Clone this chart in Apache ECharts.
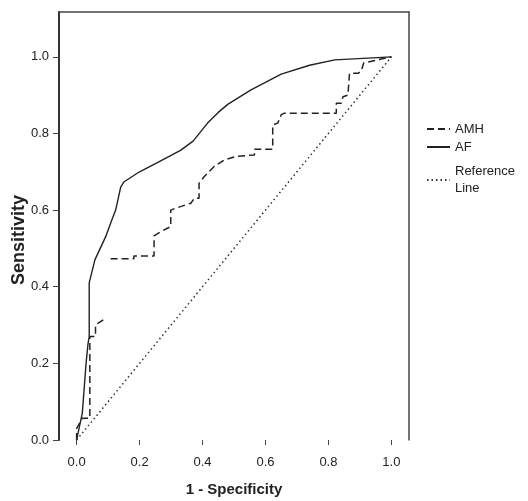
<!DOCTYPE html>
<html>
<head>
<meta charset="utf-8">
<script src="https://cdn.jsdelivr.net/npm/echarts@6/dist/echarts.min.js"></script>
<style>
  html, body { margin: 0; padding: 0; background: #fff; }
  #main { width: 528px; height: 501px; }
</style>
</head>
<body>
<div id="main"></div>
<script>
// ROC curve points
var afX = [0, 0.005, 0.018, 0.03, 0.036, 0.04, 0.04, 0.058, 0.075, 0.092, 0.11, 0.124, 0.14, 0.151, 0.2, 0.252, 0.33, 0.37, 0.416, 0.45, 0.48, 0.554, 0.65, 0.74, 0.82, 1];
var afY = [0, 0.02, 0.07, 0.2, 0.25, 0.27, 0.41, 0.47, 0.5, 0.53, 0.57, 0.6, 0.66, 0.674, 0.7, 0.722, 0.756, 0.78, 0.827, 0.855, 0.876, 0.914, 0.955, 0.978, 0.992, 1];

// '-' marks the break visible in the AMH curve
var amhX = [0, 0, 0.018, 0.042, 0.042, 0.06, 0.06, 0.087, '-', 0.108, 0.182, 0.182, 0.246, 0.246, 0.268, 0.299, 0.299, 0.315, 0.363, 0.374, 0.389, 0.389, 0.405, 0.437, 0.469, 0.506, 0.565, 0.565, 0.623, 0.623, 0.639, 0.65, 0.66, 0.825, 0.825, 0.841, 0.846, 0.862, 0.867, 0.894, 0.904, 0.912, 1];
var amhY = [0, 0.03, 0.057, 0.057, 0.27, 0.27, 0.3, 0.315, '-', 0.473, 0.473, 0.48, 0.48, 0.533, 0.544, 0.557, 0.6, 0.605, 0.618, 0.631, 0.631, 0.67, 0.687, 0.714, 0.731, 0.74, 0.744, 0.759, 0.759, 0.822, 0.827, 0.849, 0.853, 0.853, 0.879, 0.879, 0.896, 0.9, 0.957, 0.957, 0.962, 0.984, 1];

var refX = [0, 1];
var refY = [0, 1];

var tickValues = [0, 0.2, 0.4, 0.6, 0.8, 1.0];

function zip(xs, ys) {
  return xs.map(function (x, i) { return [x, ys[i]]; });
}

var chartDom = document.getElementById("main");
var myChart = echarts.init(chartDom);
var option;

var font = "'Liberation Sans', Arial, sans-serif";
var ink = "#222";
var frame = { show: true, onZero: false, lineStyle: { color: "#444", width: 1.5 } };
// only the line sample in the legend, no marker
var noMarker = { color: "transparent", borderColor: "transparent", borderWidth: 0, opacity: 0 };

option = {
  animation: false,
  backgroundColor: "#fff",
  grid: { left: 59, right: 119, top: 12, bottom: 61, containLabel: false, outerBoundsMode: "none" },
  legend: [
    {
      data: ["AMH", "AF"],
      orient: "vertical",
      left: 421,
      top: 117,
      itemWidth: 23,
      itemHeight: 12,
      itemGap: 4,
      itemStyle: noMarker,
      textStyle: { fontFamily: font, fontSize: 13, color: ink, lineHeight: 14 },
    },
    {
      data: ["Reference Line"],
      orient: "vertical",
      left: 421,
      top: 158,
      itemWidth: 23,
      itemHeight: 12,
      itemStyle: noMarker,
      formatter: function (name) { return "Reference\nLine"; },
      textStyle: { fontFamily: font, fontSize: 13, color: ink, lineHeight: 17 },
    },
  ],
  xAxis: [
    {
      type: "value",
      min: -0.056,
      max: 1.056,
      name: "1 - Specificity",
      nameLocation: "middle",
      nameGap: 42,
      nameMoveOverlap: false,
      nameTextStyle: { fontFamily: font, fontSize: 15, fontWeight: "bold", color: ink },
      axisLine: { show: false, onZero: false },
      axisTick: { show: true, length: 5, customValues: tickValues, lineStyle: { color: "#444" } },
      axisLabel: {
        customValues: tickValues,
        margin: 16,
        fontFamily: font,
        fontSize: 13,
        color: ink,
        formatter: function (v) { return v.toFixed(1); },
      },
      splitLine: { show: false },
    },
    {
      type: "value",
      position: "top",
      min: -0.056,
      max: 1.056,
      axisLine: frame,
      axisTick: { show: false },
      axisLabel: { show: false },
      splitLine: { show: false },
    },
  ],
  yAxis: [
    {
      type: "value",
      min: 0,
      max: 1.117,
      name: "Sensitivity",
      nameLocation: "middle",
      nameGap: 31,
      nameMoveOverlap: false,
      nameTextStyle: { fontFamily: font, fontSize: 18, fontWeight: "bold", color: ink, padding: [0, 28, 0, 0] },
      axisLine: { show: true, onZero: false, lineStyle: { color: "#333", width: 2 } },
      axisTick: { show: true, length: 6, customValues: tickValues, lineStyle: { color: "#444" } },
      axisLabel: {
        customValues: tickValues,
        margin: 10,
        fontFamily: font,
        fontSize: 13,
        color: ink,
        formatter: function (v) { return v.toFixed(1); },
      },
      splitLine: { show: false },
    },
    {
      type: "value",
      position: "right",
      min: 0,
      max: 1.117,
      axisLine: frame,
      axisTick: { show: false },
      axisLabel: { show: false },
      splitLine: { show: false },
    },
  ],
  series: [
    {
      name: "AMH",
      type: "line",
      data: zip(amhX, amhY),
      symbol: "none",
      connectNulls: false,
      itemStyle: { color: ink },
      lineStyle: { color: ink, width: 1.5, type: [7, 4] },
    },
    {
      name: "AF",
      type: "line",
      data: zip(afX, afY),
      symbol: "none",
      itemStyle: { color: ink },
      lineStyle: { color: ink, width: 1.4, type: "solid" },
    },
    {
      name: "Reference Line",
      type: "line",
      data: zip(refX, refY),
      symbol: "none",
      itemStyle: { color: "#333" },
      lineStyle: { color: "#333", width: 1.5, type: [1.5, 3] },
    },
  ],
};

option && myChart.setOption(option);
</script>
</body>
</html>
